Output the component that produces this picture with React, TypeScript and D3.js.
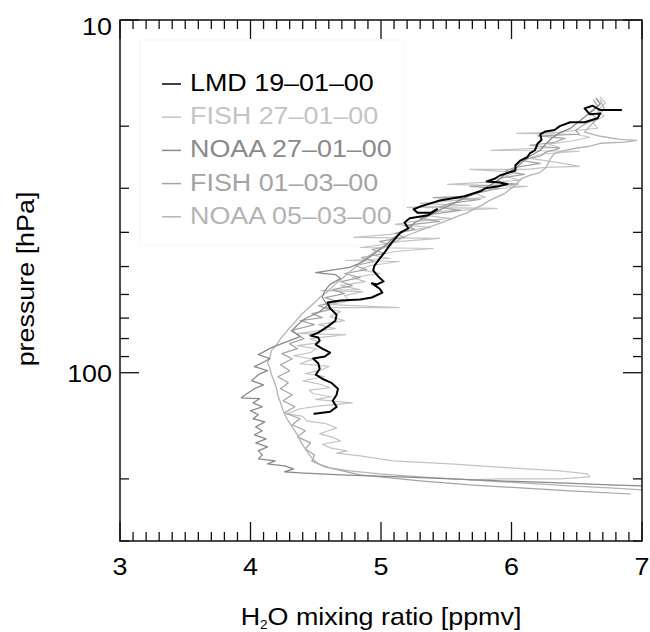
import React from "react";
import * as d3 from "d3";

type Pt = [number, number]; // [H2O mixing ratio ppmv, pressure hPa]

const xMajorTicks = [3, 4, 5, 6, 7];
const yMajorTicks = [10, 100];
const yMinorTicks = [20, 30, 40, 50, 60, 70, 80, 90, 200, 300];
const yTickLabels = ["10", "100"];

const seriesNames = ["LMD 19–01–00", "FISH 27–01–00", "NOAA 27–01–00", "FISH 01–03–00", "NOAA 05–03–00"];
const seriesColors = ["#000000", "#c4c4c4", "#8a8a8a", "#a4a4a4", "#b4b4b4"];
const seriesWidths = [2, 1.2, 1.3, 1.2, 1.3];

const lmd19jan: Pt[] = [
  [6.84, 18.0], [6.68, 18.0], [6.62, 17.5], [6.56, 17.8], [6.6, 18.5], [6.68, 18.4], [6.66, 19.0],
  [6.56, 19.5], [6.45, 19.5], [6.37, 20.0], [6.33, 20.5], [6.26, 20.7], [6.22, 21.1], [6.23, 21.9],
  [6.2, 22.4], [6.18, 23.4], [6.14, 23.9], [6.12, 24.5], [6.07, 25.0], [6.03, 25.8], [6.03, 26.7],
  [5.99, 27.0], [5.91, 27.6], [5.87, 28.2], [5.81, 28.7], [5.91, 28.9], [5.97, 29.2], [5.9, 29.6],
  [5.8, 30.0], [5.76, 30.6], [5.64, 31.6], [5.53, 32.1], [5.45, 32.5], [5.38, 33.1], [5.3, 33.8],
  [5.25, 34.4], [5.28, 35.2], [5.38, 35.2], [5.43, 34.4], [5.36, 35.8], [5.22, 36.5], [5.18, 37.5],
  [5.21, 39.0], [5.15, 40.0], [5.11, 41.6], [5.07, 43.3], [5.04, 45.0], [4.99, 47.5], [4.95, 49.7],
  [4.94, 51.3], [4.98, 53.4], [5.02, 55.1], [4.97, 56.2], [4.93, 55.8], [4.99, 57.8], [5.01, 59.3],
  [4.93, 61.2], [4.84, 62.0], [4.69, 62.4], [4.59, 63.2], [4.61, 65.7], [4.66, 68.5], [4.65, 71.2],
  [4.59, 74.0], [4.52, 77.0], [4.46, 78.5], [4.52, 79.5], [4.53, 81.1], [4.5, 83.2], [4.55, 85.5],
  [4.61, 87.7], [4.57, 90.0], [4.48, 91.2], [4.52, 94.2], [4.53, 97.4], [4.5, 101.3], [4.55, 104.0],
  [4.62, 106.8], [4.67, 111.0], [4.66, 115.5], [4.63, 120.1], [4.66, 125.0], [4.61, 129.0], [4.49, 130.8],
];

const fish27jan: Pt[] = [
  [6.68, 16.55], [6.72, 17.21], [6.66, 18.02], [6.71, 18.74], [6.62, 19.48], [6.66, 20.27], [6.37, 20.8],
  [6.04, 20.95], [6.49, 21.08], [6.6, 21.5], [6.45, 22.07], [6.28, 22.5], [6.37, 22.95], [5.84, 23.41],
  [6.52, 23.56], [6.22, 24.02], [6.14, 24.67], [6.35, 25.32], [6.52, 25.99], [6.26, 26.16], [6.12, 26.51],
  [5.68, 26.51], [6.03, 27.03], [5.95, 27.74], [6.07, 28.48], [5.51, 29.24], [6.12, 29.62], [5.84, 30.21],
  [5.72, 31.0], [5.8, 31.84], [5.57, 32.46], [5.3, 33.1], [5.68, 33.54], [5.2, 33.98], [5.89, 34.2],
  [5.45, 34.89], [5.34, 35.81], [5.53, 36.5], [5.26, 37.24], [5.11, 37.98], [5.38, 38.73], [5.18, 39.76],
  [5.07, 40.55], [4.79, 41.35], [5.45, 41.62], [5.15, 42.45], [5.03, 43.3], [4.84, 44.15], [5.4, 44.44],
  [5.11, 45.32], [4.95, 46.52], [5.07, 47.44], [4.73, 48.07], [5.14, 48.38], [4.92, 49.67], [4.84, 50.99],
  [4.99, 52.33], [4.78, 53.73], [4.88, 55.15], [4.69, 56.61], [4.84, 58.11], [4.54, 58.49], [4.86, 58.87],
  [4.72, 60.44], [4.76, 62.45], [4.61, 64.1], [5.14, 65.36], [4.57, 65.36], [4.69, 67.1], [4.61, 69.33],
  [4.72, 71.17], [4.52, 73.06], [4.65, 75.0], [4.36, 77.5], [4.73, 78.0], [4.46, 80.06], [4.53, 82.2],
  [4.36, 83.81], [4.5, 85.5], [4.46, 87.7], [4.33, 89.5], [4.48, 91.5], [4.38, 94.3], [4.6, 96.0],
  [4.53, 98.7], [4.42, 100.5], [4.57, 102.5], [4.4, 105.4], [4.52, 107.5], [4.61, 110.3], [4.45, 112.0],
  [4.48, 114.7], [4.62, 117.0], [4.5, 119.0], [4.78, 121.7], [4.53, 124.1], [4.38, 126.5], [4.28, 130.8],
  [4.4, 133.0], [4.43, 136.9], [4.58, 139.5], [4.66, 143.3], [4.53, 149.0], [4.62, 152.0], [4.69, 156.0],
  [4.55, 159.5], [4.61, 163.3], [4.74, 166.6], [4.66, 169.0], [4.84, 172.1], [5.09, 177.8], [5.53, 181.4],
  [5.99, 186.2], [6.37, 189.9], [6.58, 193.6], [6.6, 197.4], [6.37, 200.0], [5.91, 200.0], [5.68, 201.4],
];

const noaa27jan: Pt[] = [
  [6.65, 16.7], [6.68, 17.3], [6.63, 18.0], [6.57, 18.7], [6.51, 19.5], [6.45, 20.3], [6.37, 20.9],
  [6.31, 21.6], [6.26, 22.5], [6.22, 23.41], [6.14, 24.34], [6.08, 25.32], [6.03, 26.33], [5.95, 27.38],
  [5.9, 28.48], [5.82, 29.62], [5.74, 30.81], [5.65, 31.84], [5.57, 32.89], [5.49, 34.0], [5.41, 35.1],
  [5.34, 36.3], [5.26, 37.5], [5.21, 38.99], [5.15, 40.29], [5.09, 41.62], [5.04, 43.3], [4.98, 45.0],
  [4.92, 46.8], [4.85, 48.7], [4.76, 50.3], [4.61, 51.3], [4.5, 52.0], [4.65, 52.7], [4.69, 54.1],
  [4.61, 56.2], [4.57, 58.5], [4.55, 61.2], [4.59, 64.5], [4.52, 67.5], [4.42, 70.2], [4.36, 73.1],
  [4.32, 76.0], [4.38, 79.0], [4.26, 82.2], [4.16, 84.9], [4.09, 87.7], [4.06, 88.9], [4.15, 91.2],
  [4.09, 93.7], [4.03, 96.1], [4.13, 98.7], [4.06, 101.3], [4.01, 105.4], [4.1, 108.2], [4.03, 111.0],
  [3.96, 115.5], [3.93, 117.8], [4.07, 118.5], [4.02, 121.7], [4.09, 124.9], [4.0, 128.2], [4.06, 131.6],
  [4.02, 135.1], [4.11, 137.8], [4.04, 142.4], [4.09, 146.1], [4.03, 150.0], [4.12, 154.0], [4.04, 158.1],
  [4.13, 162.2], [4.06, 166.6], [4.09, 171.0], [4.06, 175.5], [4.19, 177.8], [4.13, 181.4], [4.26, 183.7],
  [4.33, 187.4], [4.26, 191.1], [4.38, 192.3], [4.69, 194.9], [5.15, 197.4], [5.54, 200.0], [5.91, 202.7],
  [6.37, 205.3], [6.75, 208.1], [7.0, 209.4], [7.14, 210.8],
];

const fish01mar: Pt[] = [
  [6.63, 16.88], [6.66, 17.55], [6.6, 18.26], [6.65, 18.98], [6.56, 19.74], [6.49, 20.54], [6.52, 21.08],
  [6.2, 21.3], [6.41, 21.65], [6.33, 22.22], [6.14, 22.65], [6.37, 23.1], [6.26, 23.72], [6.22, 24.34],
  [6.07, 24.99], [6.22, 25.49], [6.03, 26.16], [5.95, 26.86], [6.1, 27.38], [5.91, 28.11], [5.87, 28.85],
  [6.05, 29.2], [5.68, 29.62], [5.91, 30.0], [5.76, 30.81], [5.64, 31.63], [5.4, 31.9], [5.76, 32.25],
  [5.53, 33.1], [5.45, 33.98], [5.61, 34.66], [5.38, 35.58], [5.3, 36.5], [5.45, 37.24], [5.18, 38.23],
  [5.26, 39.24], [5.11, 40.29], [5.18, 41.35], [4.99, 42.45], [5.08, 43.58], [4.93, 44.73], [5.03, 45.91],
  [4.85, 47.13], [4.95, 48.38], [4.8, 49.67], [4.89, 50.99], [4.72, 52.33], [4.84, 53.73], [4.69, 55.15],
  [4.78, 56.61], [4.63, 58.11], [4.72, 59.65], [4.57, 61.24], [4.67, 62.86], [4.52, 64.52], [4.61, 66.23],
  [4.47, 67.98], [4.55, 69.78], [4.38, 71.17], [4.49, 73.06], [4.31, 75.98], [4.41, 80.06], [4.3, 82.72],
  [4.36, 85.48], [4.24, 88.3], [4.32, 91.24], [4.23, 94.9], [4.3, 98.7], [4.21, 102.7], [4.29, 106.8],
  [4.23, 111.0], [4.32, 115.5], [4.25, 120.1], [4.34, 124.9], [4.26, 129.9], [4.38, 135.1], [4.32, 140.5],
  [4.42, 146.1], [4.36, 152.0], [4.46, 158.1], [4.42, 164.4], [4.49, 171.0], [4.47, 177.8], [4.57, 184.9],
  [4.84, 194.9], [5.3, 202.7], [5.68, 208.1], [6.07, 212.2], [6.45, 216.4], [6.91, 220.7],
];

const noaa05mar: Pt[] = [
  [6.68, 16.88], [6.71, 17.78], [6.66, 18.98], [6.6, 20.0], [6.56, 20.8], [6.68, 21.36], [6.83, 21.79],
  [6.96, 21.93], [6.87, 22.2], [6.68, 22.36], [6.6, 22.8], [6.49, 23.1], [6.41, 23.41], [6.33, 23.87],
  [6.3, 24.67], [6.28, 25.49], [6.26, 26.33], [6.22, 27.03], [6.14, 27.56], [6.08, 28.11], [6.05, 28.85],
  [6.0, 30.0], [5.95, 31.0], [5.87, 32.0], [5.82, 32.67], [5.77, 33.54], [5.72, 34.2], [5.67, 35.1],
  [5.59, 36.0], [5.51, 37.0], [5.45, 37.7], [5.38, 38.5], [5.3, 39.5], [5.24, 40.3], [5.18, 41.1],
  [5.13, 42.17], [5.07, 43.0], [5.02, 44.2], [4.96, 45.3], [4.9, 46.8], [4.85, 48.4], [4.81, 50.0],
  [4.76, 51.7], [4.72, 53.4], [4.67, 55.2], [4.63, 57.0], [4.58, 59.3], [4.53, 61.2], [4.49, 63.3],
  [4.44, 65.8], [4.39, 68.4], [4.35, 71.2], [4.3, 74.5], [4.27, 77.0], [4.23, 80.0], [4.2, 83.3],
  [4.16, 86.6], [4.15, 90.1], [4.13, 93.7], [4.15, 97.4], [4.16, 101.3], [4.18, 105.4], [4.2, 111.0],
  [4.21, 116.2], [4.23, 121.7], [4.25, 128.2], [4.28, 135.1], [4.32, 142.4], [4.36, 150.0], [4.39, 158.1],
  [4.43, 166.6], [4.47, 174.4], [4.52, 181.4], [4.61, 186.1], [4.76, 189.9], [4.99, 193.6], [5.3, 197.4],
  [5.68, 201.4], [6.07, 205.3], [6.45, 209.4], [6.75, 212.2], [7.0, 215.0], [7.14, 216.4],
];

const seriesData: Pt[][] = [lmd19jan, fish27jan, noaa27jan, fish01mar, noaa05mar];

const FONT = "'Liberation Sans', Arial, Helvetica, sans-serif";
const SX = 1.12;

function Label(props: { x: number; y: number; anchor?: string; fill?: string; size?: number; rotate?: number; children: React.ReactNode }) {
  const { x, y, anchor = "start", fill = "#000", size = 24, rotate = 0, children } = props;
  return (
    <text
      transform={`translate(${x},${y})${rotate ? ` rotate(${rotate})` : ""} scale(${SX},1)`}
      textAnchor={anchor as any}
      fontFamily={FONT}
      fontSize={size}
      fill={fill}
    >
      {children}
    </text>
  );
}

export default function App() {
  const W = 650;
  const H = 632;
  const left = 120, right = 642, top = 20, bottom = 541;
  const x = d3.scaleLinear().domain([3, 7]).range([left, right]);
  const y = d3.scaleLog().domain([10, 300]).range([top, bottom]);
  const line = d3
    .line<Pt>()
    .x((d) => x(d[0]))
    .y((d) => y(d[1]));

  const xMinor = d3.range(30, 71).filter((i) => i % 10 !== 0).map((i) => i / 10);
  const axisColor = "#111";
  const drawOrder = [1, 3, 4, 2, 0];

  return (
    <svg width={W} height={H} style={{ position: "absolute", left: 0, top: 0, background: "#fff" }}>
      <defs>
        <clipPath id="plotClip">
          <rect x={left} y={top} width={right - left} height={bottom - top} />
        </clipPath>
      </defs>
      <rect x={0} y={0} width={W} height={H} fill="#fff" />

      {/* legend box (faint) */}
      <rect x={140} y={40} width={264} height={205} fill="none" stroke="#f6f6f6" strokeWidth={1} />

      {/* data lines */}
      <g clipPath="url(#plotClip)" fill="none" strokeLinejoin="round" strokeLinecap="round">
        {drawOrder.map((i) => (
          <path key={i} d={line(seriesData[i]) || ""} stroke={seriesColors[i]} strokeWidth={seriesWidths[i]} />
        ))}
      </g>

      {/* legend */}
      {seriesNames.map((name, i) => {
        const ly = 84 + i * 33.2;
        return (
          <g key={name}>
            <line x1={162} x2={181} y1={ly} y2={ly} stroke={seriesColors[i]} strokeWidth={1.5} />
            <Label x={190} y={ly + 7} fill={seriesColors[i]}>
              {name}
            </Label>
          </g>
        );
      })}

      {/* frame */}
      <rect x={left} y={top} width={right - left} height={bottom - top} fill="none" stroke={axisColor} strokeWidth={1.5} />

      {/* ticks */}
      <g stroke={axisColor} strokeWidth={1.3}>
        {xMajorTicks.map((t) => (
          <g key={"xM" + t}>
            <line x1={x(t)} x2={x(t)} y1={bottom} y2={bottom - 19} />
            <line x1={x(t)} x2={x(t)} y1={top} y2={top + 19} />
          </g>
        ))}
        {xMinor.map((t) => (
          <g key={"xm" + t}>
            <line x1={x(t)} x2={x(t)} y1={bottom} y2={bottom - 9} />
            <line x1={x(t)} x2={x(t)} y1={top} y2={top + 9} />
          </g>
        ))}
        {yMajorTicks.map((t) => (
          <g key={"yM" + t}>
            <line x1={left} x2={left + 19} y1={y(t)} y2={y(t)} />
            <line x1={right} x2={right - 19} y1={y(t)} y2={y(t)} />
          </g>
        ))}
        {yMinorTicks.map((t) => (
          <g key={"ym" + t}>
            <line x1={left} x2={left + 9} y1={y(t)} y2={y(t)} />
            <line x1={right} x2={right - 9} y1={y(t)} y2={y(t)} />
          </g>
        ))}
      </g>

      {/* tick labels */}
      {xMajorTicks.map((t) => (
        <Label key={"xl" + t} x={x(t)} y={575} anchor="middle">
          {String(t)}
        </Label>
      ))}
      {yMajorTicks.map((t, i) => (
        <Label key={"yl" + t} x={112} y={Math.max(y(t) + 9, 35)} anchor="end">
          {yTickLabels[i]}
        </Label>
      ))}

      {/* axis titles */}
      <text
        transform={`translate(381,625) scale(${SX},1)`}
        textAnchor="middle"
        fontFamily={FONT}
        fontSize={24}
        fill="#000"
      >
        H
        <tspan fontSize={12} dy={4}>
          2
        </tspan>
        <tspan dy={-4}>O mixing ratio [ppmv]</tspan>
      </text>
      <Label x={34} y={279} anchor="middle" rotate={-90}>
        pressure [hPa]
      </Label>
    </svg>
  );
}
